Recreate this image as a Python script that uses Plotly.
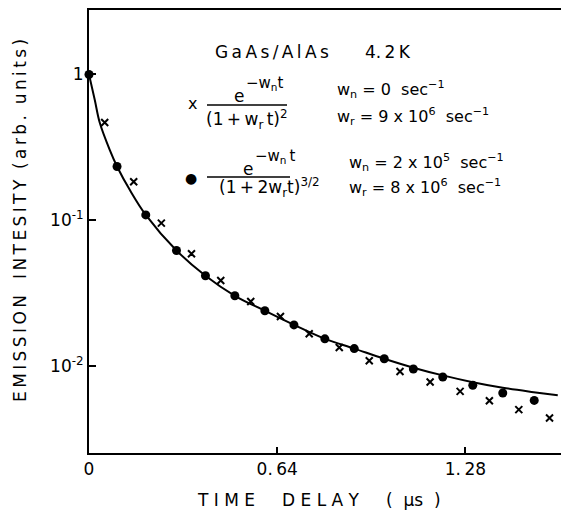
import plotly.graph_objects as go

# ---- data ----
dot_t = [0, 0.0953, 0.193, 0.2975, 0.396, 0.496, 0.598, 0.697, 0.802, 0.902,
         1.004, 1.103, 1.203, 1.305, 1.407, 1.514]
dot_y = [1.0, 0.234, 0.109, 0.0621, 0.0417, 0.0304, 0.0240, 0.0192, 0.0154, 0.0132,
         0.01125, 0.00957, 0.00843, 0.0074, 0.00655, 0.00583]

cross_t = [0.0534, 0.152, 0.246, 0.3485, 0.448, 0.550, 0.651, 0.7488, 0.851, 0.953,
           1.0575, 1.160, 1.262, 1.3615, 1.4615, 1.566]
cross_y = [0.468, 0.184, 0.0957, 0.059, 0.0387, 0.0278, 0.0219, 0.0167, 0.01345, 0.0109,
           0.0092, 0.0078, 0.00672, 0.0058, 0.00504, 0.00442]

curve_t = [0, 0.0197, 0.0364, 0.0705, 0.0953, 0.14, 0.193, 0.2975, 0.396, 0.496, 0.598,
           0.697, 0.802, 0.902, 1.004, 1.103, 1.203, 1.305, 1.407, 1.512, 1.594]
curve_y = [1.0, 0.668, 0.468, 0.304, 0.234, 0.16, 0.109, 0.0621, 0.0417, 0.0304, 0.0240,
           0.0192, 0.0154, 0.0132, 0.01125, 0.00977, 0.00865, 0.00777, 0.00712, 0.00664, 0.00632]

TS = "\u2009"  # thin space used for letter spacing
x_tickvals = [0, 0.64, 1.28]
x_ticktext = ["0", "0." + TS + "64", "1." + TS + "28"]
y_tickvals = [1, 0.1, 0.01]
y_ticktext = ["1", "10<sup>-1</sup>", "10<sup>-2</sup>"]

W, H = 561, 513
L, R, T, B = 89, 0, 10, 60
PW, PH = W - L - R, H - T - B


def px(x):
    return (x - L) / PW


def py(y):
    return (H - B - y) / PH


def spaced(s, sep=TS):
    return sep.join(list(s))


FONT = "DejaVu Sans"

fig = go.Figure()
fig.add_trace(go.Scatter(x=curve_t, y=curve_y, mode="lines", line=dict(color="black", width=2, shape="spline"),
                         showlegend=False, hoverinfo="skip"))
fig.add_trace(go.Scatter(x=dot_t, y=dot_y, mode="markers", cliponaxis=False,
                         marker=dict(symbol="circle", size=9, color="black"), showlegend=False))
fig.add_trace(go.Scatter(x=cross_t, y=cross_y, mode="markers", cliponaxis=False,
                         marker=dict(symbol="x-thin", size=7, color="black",
                                     line=dict(color="black", width=2)), showlegend=False))

fig.update_xaxes(range=[0, 1.605], tickvals=x_tickvals, ticktext=x_ticktext,
                 ticks="inside", ticklen=6, tickwidth=1.5, tickcolor="black",
                 showline=True, linecolor="black", linewidth=2, mirror=True,
                 showgrid=False, zeroline=False,
                 tickfont=dict(family=FONT, size=17, color="black"))
fig.update_yaxes(type="log", range=[-2.595, 0.442], tickvals=y_tickvals, ticktext=y_ticktext,
                 ticks="inside", ticklen=7, tickwidth=1.5, tickcolor="black",
                 showline=True, linecolor="black", linewidth=2,
                 showgrid=False, zeroline=False,
                 tickfont=dict(family=FONT, size=17, color="black"))

ann = []


def A(text, x, y, size=16, xanchor="left", **kw):
    ann.append(dict(text=text, x=px(x), y=py(y), xref="paper", yref="paper",
                    xanchor=xanchor, yanchor="middle", showarrow=False,
                    font=dict(family=FONT, size=size, color="black"), **kw))


A(spaced("GaAs/AlAs"), 213, 52, 17)
A("4." + TS + "2" + TS + "K", 363, 52, 17)
# first formula
A("x", 192, 104, 16, xanchor="center")
A("e", 239, 96, 17, xanchor="center")
A("−w<sub>n</sub>t", 244, 84, 15)
A("(1" + TS + "+" + TS + "w<sub>r</sub>" + TS + "t)<sup>2</sup>", 247, 119, 17, xanchor="center")
A("w<sub>n</sub> = 0  sec<sup>−1</sup>", 335, 90, 16)
A("w<sub>r</sub> = 9 x 10<sup>6</sup>  sec<sup>−1</sup>", 335, 117, 16)
# second formula
A("●", 191, 178, 14, xanchor="center")
A("e", 248, 169, 17, xanchor="center")
A("−w<sub>n</sub>" + TS + "t", 253, 157, 15)
A("(1" + TS + "+" + TS + "2w<sub>r</sub>t)<sup>3/2</sup>", 269, 187, 17, xanchor="center")
A("w<sub>n</sub> = 2 x 10<sup>5</sup>  sec<sup>−1</sup>", 347, 162, 16)
A("w<sub>r</sub> = 8 x 10<sup>6</sup>  sec<sup>−1</sup>", 347, 187, 16)
A(spaced("TIME", " ") + "     " + spaced("DELAY", " ") + "     (  μs  )", 319, 500, 17, xanchor="center")
ann.append(dict(text=spaced("EMISSION") + "   " + spaced("INTESITY") + "  " + spaced("(arb.") + "  " + spaced("units)"),
                x=px(20), y=py(221),
                xref="paper", yref="paper", xanchor="center", yanchor="middle",
                showarrow=False, textangle=-90,
                font=dict(family=FONT, size=17, color="black")))

shapes = [
    dict(type="line", xref="paper", yref="paper", x0=px(207), x1=px(287), y0=py(105), y1=py(105),
         line=dict(color="black", width=1.5)),
    dict(type="line", xref="paper", yref="paper", x0=px(207), x1=px(290), y0=py(177), y1=py(177),
         line=dict(color="black", width=1.5)),
]

fig.update_layout(width=W, height=H, margin=dict(l=L, r=R, t=T, b=B, autoexpand=False),
                  paper_bgcolor="white", plot_bgcolor="white",
                  annotations=ann, shapes=shapes, showlegend=False)

fig.write_html("out.html", config={"displayModeBar": False},
               post_script="document.body.style.margin='0px';document.body.style.overflow='hidden';")
